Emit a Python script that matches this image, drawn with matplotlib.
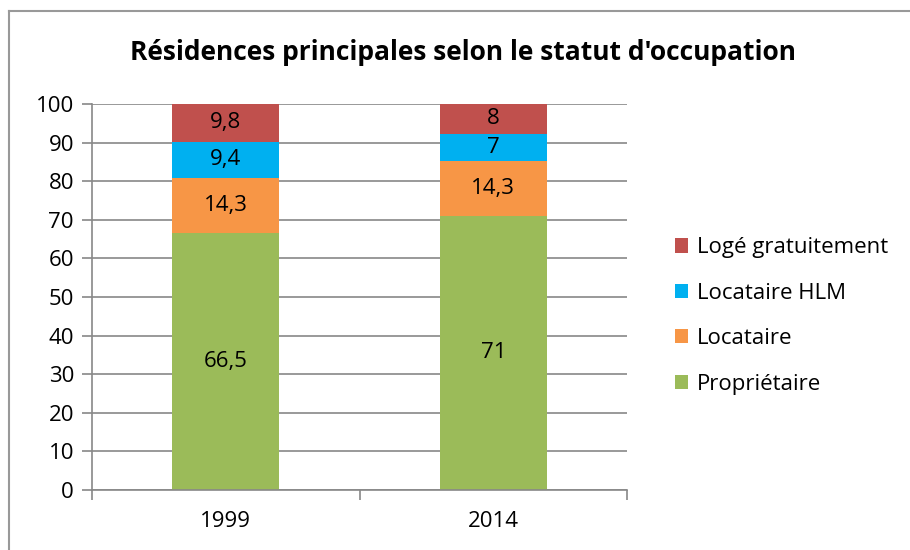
import numpy as np
import matplotlib.pyplot as plt
from matplotlib.lines import Line2D

plt.rcParams['font.family'] = ['Open Sans', 'DejaVu Sans']

# data
years = ['1999', '2014']
series = ['Propriétaire', 'Locataire', 'Locataire HLM', 'Logé gratuitement']
proprietaire = [66.5, 71]
locataire = [14.3, 14.3]
locataire_hlm = [9.4, 7]
loge_gratuit = [9.8, 8]
labels = [['66,5', '71'], ['14,3', '14,3'], ['9,4', '7'], ['9,8', '8']]
colors = ['#9BBB59', '#F79646', '#00B0F0', '#C0504D']

fig = plt.figure(figsize=(9.1, 5.5), dpi=100)
ax = fig.add_axes([92 / 910, 1 - 490 / 550, 535 / 910, 386 / 550])

x = np.arange(len(years))
bottom = np.zeros(len(years))
values = [proprietaire, locataire, locataire_hlm, loge_gratuit]
handles = []
for vals, name, col, labs in zip(values, series, colors, labels):
    vals = np.array(vals)
    bars = ax.bar(x, vals, width=0.4, bottom=bottom, color=col, label=name, zorder=2)
    handles.append(bars)
    for xi, b, v, lab in zip(x, bottom, vals, labs):
        top = min(b + v, 100)
        ax.text(xi, (b + top) / 2, lab, ha='center', va='center', fontsize=16, color='black', zorder=3)
    bottom = bottom + vals

ax.set_xlim(-0.5, 1.5)
ax.set_ylim(0, 100)
ax.set_yticks(range(0, 101, 10))
ax.set_xticks(x)
ax.set_xticklabels(years)
ax.set_xticks([-0.5, 0.5, 1.5], minor=True)
ax.yaxis.grid(True, color='#888888', linewidth=1.2, zorder=0)
ax.tick_params(axis='y', length=7, width=1.2, color='#888888', labelsize=16, pad=6)
ax.tick_params(axis='x', which='major', length=0, labelsize=16, pad=15)
ax.tick_params(axis='x', which='minor', length=7, width=1.2, color='#888888')
for s in ['top', 'right']:
    ax.spines[s].set_visible(False)
ax.spines['left'].set_color('#888888')
ax.spines['left'].set_linewidth(1.2)
ax.spines['bottom'].set_color('#888888')
ax.spines['bottom'].set_linewidth(1.2)

leg = fig.legend(handles[::-1], series[::-1], loc='center left', bbox_to_anchor=(655 / 910, 1 - 316 / 550),
                 frameon=False, fontsize=16, handlelength=0.6, handleheight=0.6, handletextpad=0.4,
                 labelspacing=1.1)

fig.text(463 / 910, 1 - 53 / 550, "Résidences principales selon le statut d'occupation",
         ha='center', va='center', fontsize=19, fontweight='bold')

# outer chart border (left and top only visible)
fig.add_artist(Line2D([9 / 910, 9 / 910], [0, 1 - 11 / 550], color='#999999', linewidth=1.5))
fig.add_artist(Line2D([9 / 910, 1], [1 - 11 / 550, 1 - 11 / 550], color='#999999', linewidth=1.5))

fig.savefig('out.png', dpi=100)
